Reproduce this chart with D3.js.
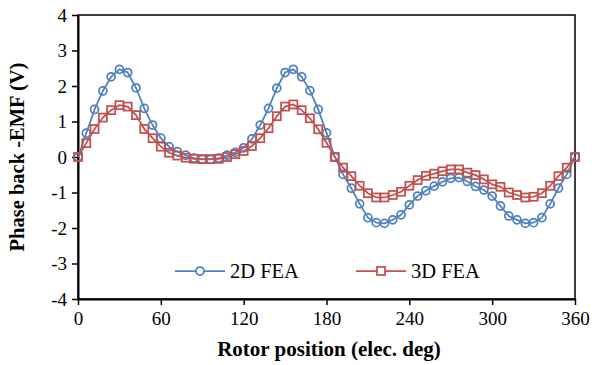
<!DOCTYPE html>
<html><head><meta charset="utf-8">
<script src="https://cdn.jsdelivr.net/npm/d3@7"></script>
<style>body{margin:0;background:#fff}svg{display:block}svg text{font-family:"Liberation Serif","Times New Roman",Times,serif}</style>
</head><body>
<svg id="c" width="595" height="365"></svg>
<script>
const angles = d3.range(0, 361, 6);
const fea2D = [0,0.67,1.34,1.86,2.26,2.47,2.38,1.95,1.37,0.90,0.53,0.29,0.15,0.05,-0.03,-0.07,-0.07,-0.03,0.05,0.13,0.26,0.51,0.90,1.37,1.94,2.38,2.47,2.26,1.87,1.34,0.68,0.0,-0.49,-0.88,-1.32,-1.71,-1.85,-1.87,-1.77,-1.63,-1.35,-1.10,-0.95,-0.82,-0.70,-0.60,-0.58,-0.69,-0.83,-0.93,-1.10,-1.38,-1.66,-1.77,-1.87,-1.85,-1.71,-1.32,-0.88,-0.49,0];
const fea3D = [0,0.39,0.79,1.11,1.32,1.46,1.42,1.18,0.79,0.53,0.29,0.12,0.04,-0.02,-0.05,-0.06,-0.06,-0.05,0.0,0.08,0.17,0.31,0.53,0.81,1.15,1.42,1.48,1.32,1.09,0.78,0.40,0.0,-0.30,-0.54,-0.81,-1.02,-1.14,-1.14,-1.07,-0.98,-0.81,-0.65,-0.53,-0.47,-0.40,-0.35,-0.35,-0.44,-0.51,-0.63,-0.77,-0.84,-1.00,-1.07,-1.14,-1.12,-1.02,-0.81,-0.54,-0.30,0];
const xTicks = [0,60,120,180,240,300,360];
const yTicks = [-4,-3,-2,-1,0,1,2,3,4];
const seriesNames = ["2D FEA","3D FEA"];
const colors = ["#4F81BD","#C0504D"];

const svg = d3.select("#c");
const L=78, R=575, T=15, B=299;
const x = d3.scaleLinear().domain([0,360]).range([L,R]);
const y = d3.scaleLinear().domain([-4,4]).range([B,T]);

svg.append("rect").attr("x",L).attr("y",T).attr("width",R-L).attr("height",B-T)
  .attr("fill","none").attr("stroke","#000").attr("stroke-width",1.5);

const ya = svg.append("g").attr("transform",`translate(${L},0)`)
  .call(d3.axisLeft(y).tickValues(yTicks).tickFormat(d=>String(d)).tickSize(6).tickSizeOuter(0).tickPadding(5));
const xa = svg.append("g").attr("transform",`translate(0,${B})`)
  .call(d3.axisBottom(x).tickValues(xTicks).tickFormat(d=>String(d)).tickSize(6).tickSizeOuter(0).tickPadding(7));
[ya,xa].forEach(a=>{
  a.attr("font-family",null);
  a.select(".domain").attr("stroke","#000").attr("stroke-width",2);
  a.selectAll(".tick line").attr("stroke","#000").attr("stroke-width",1.5);
  a.selectAll("text").attr("font-size",19).attr("fill","#000");
});

const line = d3.line().x((d,i)=>x(angles[i])).y(d=>y(d));
[fea2D, fea3D].forEach((s,k)=>{
  svg.append("path").datum(s).attr("d",line).attr("fill","none")
    .attr("stroke",colors[k]).attr("stroke-width",1.75);
});
svg.append("g").selectAll("circle").data(fea2D).join("circle")
  .attr("cx",(d,i)=>x(angles[i])).attr("cy",d=>y(d)).attr("r",4)
  .attr("fill","none").attr("stroke",colors[0]).attr("stroke-width",1.75);
svg.append("g").selectAll("rect").data(fea3D).join("rect")
  .attr("x",(d,i)=>x(angles[i])-4).attr("y",d=>y(d)-4).attr("width",8).attr("height",8)
  .attr("fill","none").attr("stroke",colors[1]).attr("stroke-width",1.75);

const legY = 271;
const legX = [175, 356];
seriesNames.forEach((n,k)=>{
  const g = svg.append("g");
  g.append("line").attr("x1",legX[k]).attr("x2",legX[k]+50).attr("y1",legY).attr("y2",legY)
    .attr("stroke",colors[k]).attr("stroke-width",1.75);
  if(k===0) g.append("circle").attr("cx",legX[k]+25).attr("cy",legY).attr("r",4)
    .attr("fill","#fff").attr("stroke",colors[k]).attr("stroke-width",1.75);
  else g.append("rect").attr("x",legX[k]+21).attr("y",legY-4).attr("width",8).attr("height",8)
    .attr("fill","#fff").attr("stroke",colors[k]).attr("stroke-width",1.75);
  g.append("text").attr("x",legX[k]+55).attr("y",legY).attr("dy","0.35em")
    .attr("font-size",20.5).text(n);
});

svg.append("text").attr("x",329).attr("y",356).attr("text-anchor","middle")
  .attr("font-weight","bold").attr("font-size",21)
  .text("Rotor position (elec. deg)");
svg.append("text").attr("transform",`translate(24,${(T+B)/2}) rotate(-90)`)
  .attr("text-anchor","middle").attr("font-weight","bold").attr("font-size",20.5)
  .text("Phase back -EMF (V)");
</script>
</body></html>
